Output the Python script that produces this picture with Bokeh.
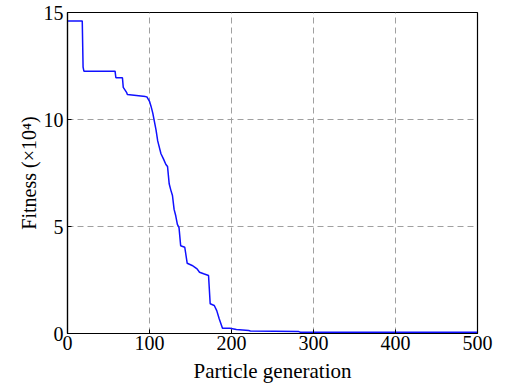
from bokeh.plotting import figure
from bokeh.models import Range1d, FixedTicker
from bokeh.embed import file_html
from bokeh.resources import INLINE

# Particle generation vs fitness (x1e4)
generation = [0, 18, 19, 20, 58, 59, 67, 68, 72, 73,
              95, 97, 100, 102, 104, 106, 108, 110, 112, 114,
              117, 120, 122, 124, 126, 128, 130, 132, 134, 136,
              138, 143, 146, 152, 158, 161, 166, 172, 174, 179,
              182, 185, 189, 198, 206, 221, 223, 282, 284, 500]
fitness = [14.6, 14.6, 12.45, 12.26, 12.26, 11.95, 11.95, 11.5, 11.27, 11.17,
           11.07, 11.05, 10.85, 10.6, 10.3, 9.9, 9.5, 9.0, 8.7, 8.4,
           8.16, 7.9, 7.8, 7.0, 6.7, 6.45, 5.8, 5.5, 5.1, 4.95,
           4.1, 4.03, 3.28, 3.18, 3.02, 2.86, 2.79, 2.71, 1.39, 1.31,
           1.07, 0.69, 0.25, 0.25, 0.19, 0.14, 0.12, 0.09, 0.06, 0.06]
x_ticks = [0, 100, 200, 300, 400, 500]
y_ticks = [0, 5, 10, 15]

FONT = "Liberation Serif"

p = figure(width=505, height=387, output_backend="svg", toolbar_location=None,
           x_range=Range1d(0, 500), y_range=Range1d(0, 15),
           min_border_left=67, min_border_right=28, min_border_top=12,
           min_border_bottom=54)
p.background_fill_color = "white"
p.border_fill_color = "white"
p.outline_line_color = "black"
p.outline_line_width = 1.2

p.line(generation, fitness, line_color="#1010ff", line_width=1.5)

p.xaxis.ticker = FixedTicker(ticks=x_ticks)
p.yaxis.ticker = FixedTicker(ticks=y_ticks)
p.xaxis.axis_label = "Particle generation"
p.yaxis.axis_label = "Fitness (×10⁴)"

for ax in (p.xaxis, p.yaxis):
    ax.axis_label_text_font = FONT
    ax.axis_label_text_font_size = "21px"
    ax.axis_label_text_font_style = "normal"
    ax.axis_label_text_color = "black"
    ax.major_label_text_font = FONT
    ax.major_label_text_font_size = "20px"
    ax.major_label_text_color = "black"
    ax.axis_line_color = "black"
    ax.axis_line_width = 1.2
    ax.major_tick_in = 4
    ax.major_tick_out = 0
    ax.major_tick_line_color = "black"
    ax.minor_tick_line_color = None
p.yaxis.axis_label_text_font_size = "20px"
p.xaxis.axis_label_standoff = 6
p.xaxis.major_label_standoff = 2
p.yaxis.axis_label_standoff = 1
p.yaxis.major_label_standoff = 4

p.xgrid.grid_line_color = "#a0a0a0"
p.ygrid.grid_line_color = "#a0a0a0"
p.xgrid.grid_line_dash = "6 4"
p.ygrid.grid_line_dash = "6 4"
p.xgrid.grid_line_width = 1
p.ygrid.grid_line_width = 1

open("out.html", "w").write(file_html(p, INLINE))
